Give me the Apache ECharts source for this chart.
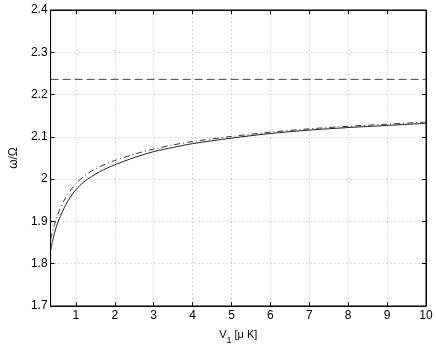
<!DOCTYPE html>
<html lang="en">

<head>
    <meta charset="UTF-8">
    <title>omega / Omega vs V1</title>
    <script src="https://cdn.jsdelivr.net/npm/echarts@6/dist/echarts.min.js"></script>
    <style>
        * {
            margin: 0px;
            padding: 0px;
        }

        #chart {
            width: 436px;
            height: 350px;
            background: #fff;
        }
    </style>
</head>

<body>
    <div id="chart"></div>

    <script type="text/javascript">
        // V1 values [uK]
        var xVals = [0.35, 0.4, 0.45, 0.5, 0.55, 0.6, 0.7, 0.8, 0.9, 1.0, 1.2, 1.4, 1.6, 1.8, 2.0, 2.5, 3, 3.5, 4, 5, 6, 7, 8, 9, 10];
        // solid curve
        var solidVals = [1.832, 1.853, 1.872, 1.888, 1.901, 1.912, 1.932, 1.949, 1.963, 1.975, 1.993, 2.006, 2.017, 2.026, 2.034, 2.051, 2.065, 2.075, 2.084, 2.097, 2.108, 2.116, 2.122, 2.127, 2.132];
        // dash-dot curve
        var dashDotVals = [1.858, 1.876, 1.893, 1.907, 1.920, 1.931, 1.950, 1.965, 1.978, 1.989, 2.006, 2.019, 2.029, 2.037, 2.044, 2.059, 2.071, 2.081, 2.089, 2.101, 2.111, 2.119, 2.125, 2.130, 2.135];
        // horizontal limit (dashed)
        var limitVal = 2.236;
        var xRange = [0.35, 10];
        var yRange = [1.7, 2.4];

        function pairs(xs, ys) {
            return xs.map(function (x, i) { return [x, ys[i]]; });
        }

        var font = 'Liberation Sans, Arial, sans-serif';
        var myChart = echarts.init(document.getElementById('chart'));

        var option = {
            animation: false,
            backgroundColor: '#fff',
            grid: {
                left: 36,
                top: 10,
                right: 10,
                bottom: 33,
                show: true,
                borderColor: '#000',
                borderWidth: 1
            },
            xAxis: [{
                type: 'value',
                min: xRange[0],
                max: xRange[1],
                splitNumber: 10,
                axisLine: { show: true, lineStyle: { color: '#000' } },
                axisTick: { inside: true, length: 4, lineStyle: { color: '#000' } },
                axisLabel: {
                    showMinLabel: false,
                    color: '#000',
                    fontFamily: font,
                    fontSize: 12,
                    margin: 4
                },
                splitLine: { lineStyle: { color: '#b8b8b8', type: [1, 3] } },
                name: '{a|V}{s|1}{a| [μ K]}',
                nameLocation: 'middle',
                nameGap: 19,
                nameTextStyle: {
                    rich: {
                        a: { fontFamily: font, fontSize: 11, color: '#000' },
                        s: { fontFamily: font, fontSize: 9, color: '#000', padding: [11, 0, 0, 0] }
                    }
                }
            }, {
                type: 'value',
                position: 'top',
                min: xRange[0],
                max: xRange[1],
                splitNumber: 10,
                axisLine: { show: true, lineStyle: { color: '#000' } },
                axisTick: { inside: true, length: 4, lineStyle: { color: '#000' } },
                axisLabel: { show: false },
                splitLine: { show: false }
            }],
            yAxis: [{
                type: 'value',
                min: yRange[0],
                max: yRange[1],
                interval: 0.1,
                axisLine: { show: true, lineStyle: { color: '#000' } },
                axisTick: { show: true, inside: true, length: 4, lineStyle: { color: '#000' } },
                axisLabel: {
                    color: '#000',
                    fontFamily: font,
                    fontSize: 12,
                    margin: 3,
                    formatter: function (v) { return String(parseFloat(v.toFixed(1))); }
                },
                splitLine: { lineStyle: { color: '#b8b8b8', type: [1, 3] } },
                name: 'ω/Ω',
                nameLocation: 'middle',
                nameGap: 24,
                nameRotate: 90,
                nameTextStyle: { fontFamily: font, fontSize: 12, color: '#000' }
            }, {
                type: 'value',
                position: 'right',
                min: yRange[0],
                max: yRange[1],
                interval: 0.1,
                axisLine: { show: true, lineStyle: { color: '#000' } },
                axisTick: { show: true, inside: true, length: 4, lineStyle: { color: '#000' } },
                axisLabel: { show: false },
                splitLine: { show: false }
            }],
            series: [{
                type: 'line',
                data: pairs(xVals, solidVals),
                smooth: 0.3,
                showSymbol: false,
                lineStyle: { color: '#222', width: 1 }
            }, {
                type: 'line',
                data: pairs(xVals, dashDotVals),
                smooth: 0.3,
                showSymbol: false,
                lineStyle: { color: '#333', width: 1, type: [6, 3, 1, 3] }
            }, {
                type: 'line',
                data: [[xRange[0], limitVal], [xRange[1], limitVal]],
                showSymbol: false,
                lineStyle: { color: '#444', width: 1, type: [8, 4] }
            }]
        };

        myChart.setOption(option);
    </script>
</body>

</html>
